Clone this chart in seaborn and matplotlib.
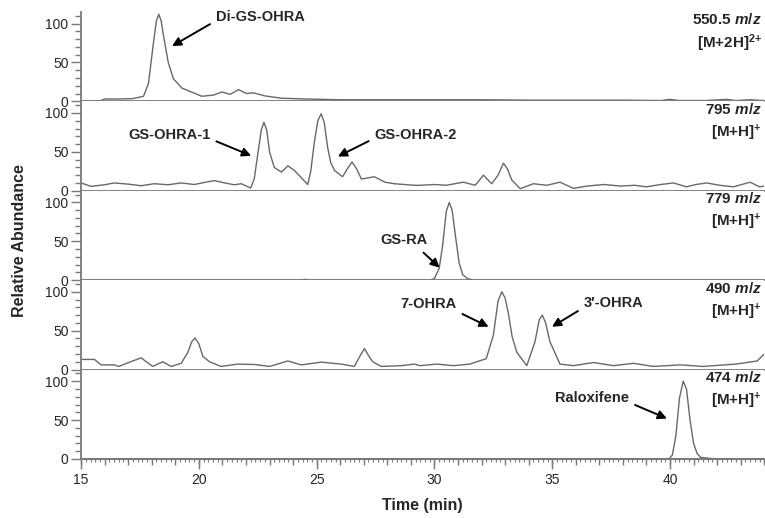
import matplotlib
matplotlib.use("Agg")
import matplotlib.pyplot as plt
from matplotlib.ticker import MultipleLocator, NullLocator
import seaborn as sns

# chromatogram traces (time in min, relative abundance)
t1 = [15.0, 15.8, 16.0, 16.6, 17.2, 17.65, 17.86, 18.07, 18.2, 18.3, 18.4, 18.5, 18.7, 18.92, 19.28,
      19.77, 20.12, 20.62, 20.97, 21.33, 21.68, 22.03, 22.3, 22.8, 23.5, 24.5, 26.0, 28.0, 30.0, 32.0,
      34.0, 36.0, 38.0, 39.6, 40.0, 40.4, 41.5, 42.4, 42.8, 43.4, 44.0]
v1 = [0, 0.6, 3, 3, 3.5, 6.5, 23, 75, 104, 112, 103, 84, 50, 29, 17,
      11, 6.5, 8, 12, 9, 15, 10, 11, 7, 4, 3, 2, 2, 2, 2,
      1.5, 1.5, 1.5, 1, 2.5, 1, 1, 2.5, 1, 2, 1]

t2 = [15.0, 15.42, 16.0, 16.4, 17.0, 17.55, 18.1, 18.7, 19.25, 19.8, 20.4, 20.66, 21.1, 21.5, 21.8,
      22.2, 22.35, 22.5, 22.65, 22.76, 22.88, 23.0, 23.2, 23.5, 23.78, 24.06, 24.62, 24.75, 24.9, 25.05,
      25.19, 25.32, 25.47, 25.6, 25.76, 26.1, 26.3, 26.5, 26.7, 26.9, 27.45, 27.9, 28.3, 29.15, 29.4,
      30.0, 30.5, 31.23, 31.73, 32.08, 32.43, 32.7, 32.93, 33.1, 33.28, 33.64, 34.2, 34.77, 35.33, 35.9,
      36.47, 37.2, 37.9, 38.5, 39.0, 39.6, 40.15, 40.7, 41.1, 41.56, 42.1, 42.7, 43.4, 43.8, 44.0]
v2 = [10, 5.6, 7.7, 10, 8.5, 6.4, 9, 7.7, 10, 8, 11.6, 13, 10, 7.7, 9,
      3.5, 15, 47, 78, 88, 78, 50, 30, 24, 32, 26, 8, 25, 62, 90,
      99, 88, 55, 36, 26, 18, 28, 37, 28, 15, 18, 11, 9, 7, 7,
      8, 7, 11, 7, 20, 9, 20, 35.5, 28, 14, 2.6, 9, 7, 11, 3,
      6, 8, 6, 7, 5, 8, 10, 5, 8, 10, 7, 5, 11, 5, 6]

t3 = [15.0, 24.2, 24.5, 24.8, 29.8, 30.0, 30.2, 30.35, 30.5, 30.63, 30.75, 30.9, 31.05, 31.2, 31.4, 31.7, 44.0]
v3 = [0, 0, 1, 0, 0, 2, 15, 45, 88, 100, 90, 55, 22, 7, 2, 0, 0]

t4 = [15.0, 15.57, 15.85, 16.4, 16.6, 17.1, 17.55, 18.04, 18.47, 18.82, 19.25, 19.53, 19.7, 19.84, 20.0,
      20.17, 20.45, 20.94, 21.65, 22.36, 23.0, 23.78, 24.34, 25.19, 26.04, 26.6, 26.85, 27.03, 27.2, 27.38,
      27.74, 28.59, 29.15, 29.39, 30.1, 30.8, 31.5, 32.2, 32.5, 32.7, 32.86, 33.0, 33.14, 33.3, 33.5,
      33.92, 34.27, 34.45, 34.58, 34.72, 34.9, 35.33, 35.9, 36.75, 37.6, 38.45, 39.3, 40.43, 41.4, 42.8,
      43.7, 44.0]
v4 = [13, 13, 6, 6, 4, 10, 15, 4, 10, 4, 8, 22, 36, 40.5, 33,
      17, 10, 4, 7, 6.5, 4, 11, 6, 9.5, 7, 4, 18, 27, 18, 10,
      4, 5, 7, 5, 7, 5, 7, 14, 44, 88, 100, 92, 72, 42, 22,
      5, 36, 64, 70, 60, 36, 7, 5, 9, 5, 8, 4, 6, 4, 7,
      11, 20]

t5 = [15.0, 39.95, 40.1, 40.25, 40.4, 40.56, 40.7, 40.85, 41.0, 41.15, 41.3, 41.6, 42.0, 44.0]
v5 = [0, 0, 5, 30, 78, 100, 90, 50, 20, 7, 2, 1, 0, 0]

traces = [(t1, v1), (t2, v2), (t3, v3), (t4, v4), (t5, v5)]
mz_labels = ["550.5 $m/z$", "795 $m/z$", "779 $m/z$", "490 $m/z$", "474 $m/z$"]
ion_labels = ["[M+2H]$^{2{+}}$", "[M+H]$^{{+}}$", "[M+H]$^{{+}}$", "[M+H]$^{{+}}$", "[M+H]$^{{+}}$"]

# (panel, text, text position, arrow head, relpos of arrow start on the text box)
peak_notes = [
    (0, "Di-GS-OHRA", (22.6, 108), (18.86, 71), (0.0, 0.25)),
    (1, "GS-OHRA-1", (18.75, 72), (22.22, 45), (1.0, 0.2)),
    (1, "GS-OHRA-2", (29.2, 72), (25.9, 44), (0.0, 0.25)),
    (2, "GS-RA", (28.7, 51), (30.22, 16), (0.8, 0.0)),
    (3, "7-OHRA", (29.75, 84), (32.3, 55), (0.95, 0.1)),
    (3, "3\u2032-OHRA", (37.6, 86), (34.99, 55), (0.0, 0.15)),
    (4, "Raloxifene", (36.7, 78), (39.87, 52), (1.0, 0.2)),
]

sns.set_style("ticks")
plt.rcParams["font.family"] = ["Liberation Sans", "DejaVu Sans"]
plt.rcParams["mathtext.fontset"] = "custom"
plt.rcParams["mathtext.rm"] = "Liberation Sans:bold"
plt.rcParams["mathtext.it"] = "Liberation Sans:italic:bold"
plt.rcParams["mathtext.bf"] = "Liberation Sans:bold"

axis_grey = "#7a7a7a"
line_grey = "#686868"

fig, axes = plt.subplots(5, 1, figsize=(7.65, 5.18), dpi=100, sharex=True)
fig.subplots_adjust(left=0.106, right=0.999, top=0.977, bottom=0.114, hspace=0)

for i, ax in enumerate(axes):
    t, v = traces[i]
    sns.lineplot(x=t, y=v, ax=ax, color=line_grey, linewidth=1.0)
    ax.set_xlim(15, 44)
    ax.set_ylim(0, 115)
    ax.set_yticks([0, 50, 100])
    ax.yaxis.set_minor_locator(MultipleLocator(10))
    for side in ["top", "right"]:
        ax.spines[side].set_visible(False)
    for side in ["left", "bottom"]:
        ax.spines[side].set_color(axis_grey)
        ax.spines[side].set_linewidth(1.3)
    ax.tick_params(axis="y", which="major", length=7, width=1, color=axis_grey, labelsize=10, pad=2)
    ax.tick_params(axis="y", which="minor", length=4, width=1, color=axis_grey)
    if i < 4:
        ax.tick_params(axis="x", which="both", bottom=False, labelbottom=False)

    ax.text(0.997, 0.91, mz_labels[i], transform=ax.transAxes, ha="right", va="center",
            fontsize=11, fontweight="bold")
    ax.text(0.997, 0.65, ion_labels[i], transform=ax.transAxes, ha="right", va="center",
            fontsize=11, fontweight="bold")

for panel, label, xytext, xyhead, rel in peak_notes:
    axes[panel].annotate(label, xy=xyhead, xytext=xytext, ha="center", va="center",
                         fontsize=10.5, fontweight="bold",
                         arrowprops=dict(arrowstyle="-|>", color="black", lw=1.4,
                                         mutation_scale=13, relpos=rel, shrinkA=2, shrinkB=0))

bottom = axes[-1]
bottom.xaxis.set_major_locator(MultipleLocator(5))
bottom.xaxis.set_minor_locator(MultipleLocator(0.2))
bottom.tick_params(axis="x", which="major", length=7, width=1, color=axis_grey, labelsize=10, pad=3)
bottom.tick_params(axis="x", which="minor", length=2.5, width=0.8, color=axis_grey)
# medium ticks at every whole minute
sec = bottom.secondary_xaxis(0)
sec.set_xticks(list(range(15, 45)))
sec.xaxis.set_minor_locator(NullLocator())
sec.tick_params(axis="x", length=4.5, width=1, color=axis_grey, labelbottom=False)
sec.spines["bottom"].set_color(axis_grey)
sec.spines["bottom"].set_linewidth(1.3)
bottom.set_xlabel("Time (min)", fontsize=11.5, fontweight="bold", labelpad=8)

fig.text(0.025, 0.535, "Relative Abundance", rotation=90, ha="center", va="center",
         fontsize=11.5, fontweight="bold")

fig.savefig("out.png", dpi=100)
